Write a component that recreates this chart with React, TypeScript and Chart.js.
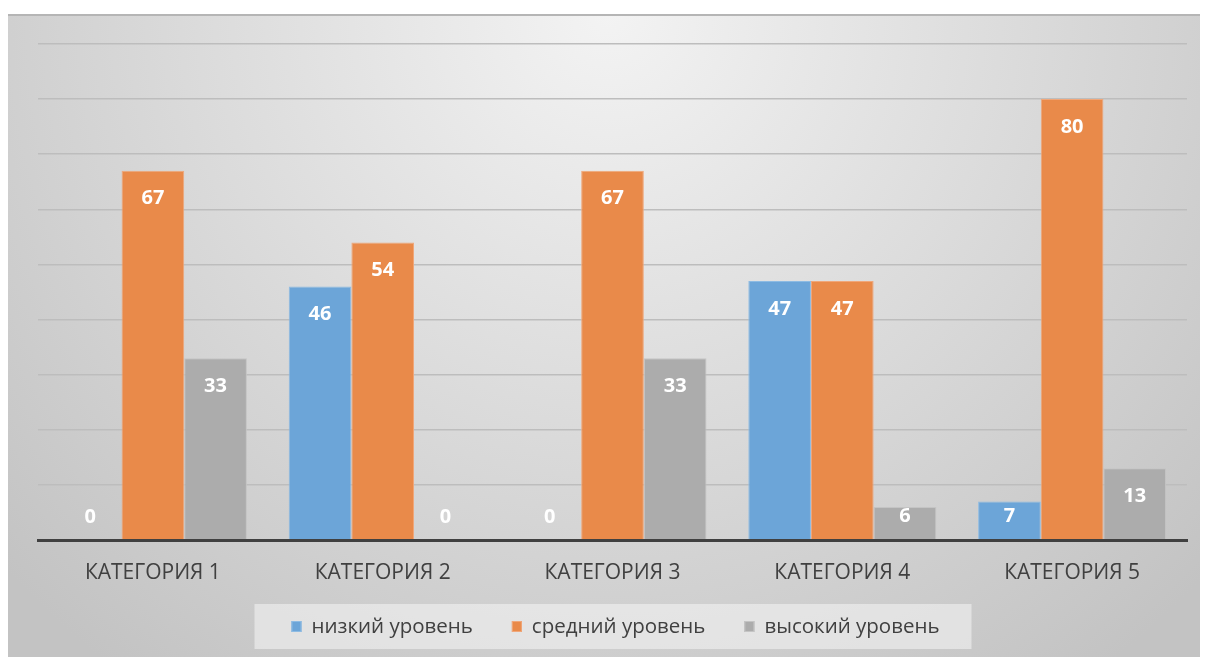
import React, { useEffect, useRef } from "react";
import { Chart, registerables } from "chart.js";

Chart.register(...registerables);

const categories = ["КАТЕГОРИЯ 1", "КАТЕГОРИЯ 2", "КАТЕГОРИЯ 3", "КАТЕГОРИЯ 4", "КАТЕГОРИЯ 5"];
const seriesNames = ["низкий уровень", "средний уровень", "высокий уровень"];
const lowLevel = [0, 46, 0, 47, 7];
const midLevel = [67, 54, 67, 47, 80];
const highLevel = [33, 0, 33, 6, 13];
const colors = ["#6ca5d8", "#e98a4a", "#acacac"];
const borderColors = ["#8dbbe3", "#f0a77a", "#c4c4c4"];

const FONT = "'Open Sans', 'Noto Sans', sans-serif";

const bgPlugin = {
  id: "bgPlugin",
  beforeDraw(chart: any) {
    const { ctx, width, height } = chart;
    ctx.save();
    ctx.fillStyle = "#ffffff";
    ctx.fillRect(0, 0, width, height);
    const top = 6;
    const g = ctx.createRadialGradient(width / 2, top, 0, width / 2, top, 820);
    g.addColorStop(0, "#f3f3f3");
    g.addColorStop(1, "#c3c3c3");
    ctx.fillStyle = g;
    ctx.fillRect(0, top, width, height - top);
    ctx.fillStyle = "#b5b5b5";
    ctx.fillRect(0, top, width, 2);
    ctx.restore();
  },
};

const labelPlugin = {
  id: "labelPlugin",
  afterDatasetsDraw(chart: any) {
    const { ctx } = chart;
    ctx.save();
    ctx.font = `bold 20px ${FONT}`;
    ctx.fillStyle = "#ffffff";
    ctx.textAlign = "center";
    ctx.textBaseline = "middle";
    chart.data.datasets.forEach((ds: any, di: number) => {
      const meta = chart.getDatasetMeta(di);
      meta.data.forEach((bar: any, i: number) => {
        const y = Math.min(bar.y + 28, bar.base - 23);
        ctx.fillText(String(ds.data[i]), bar.x, y);
      });
    });
    ctx.restore();
  },
};

const legendPlugin = {
  id: "customLegend",
  afterDraw(chart: any) {
    const { ctx, chartArea } = chart;
    ctx.save();
    ctx.font = `20.5px ${FONT}`;
    const box = 10;
    const gapBoxText = 10;
    const gapItems = 39;
    const widths = seriesNames.map((n) => ctx.measureText(n).width);
    const total = widths.reduce((a, w) => a + box + gapBoxText + w, 0) + gapItems * (seriesNames.length - 1);
    const cx = (chartArea.left + chartArea.right) / 2 + 3;
    const cy = 618;
    let x = cx - total / 2;
    ctx.fillStyle = "rgba(245,245,245,0.55)";
    ctx.fillRect(x - 37, cy - 22, total + 69, 45);
    ctx.textBaseline = "middle";
    ctx.textAlign = "left";
    seriesNames.forEach((n, i) => {
      ctx.fillStyle = colors[i];
      ctx.fillRect(x, cy - 5, box, box + 1);
      ctx.strokeStyle = borderColors[i];
      ctx.lineWidth = 1;
      ctx.strokeRect(x + 0.5, cy - 4.5, box - 1, box);
      ctx.fillStyle = "#404040";
      ctx.fillText(n, x + box + gapBoxText, cy + 1);
      x += box + gapBoxText + widths[i] + gapItems;
    });
    ctx.restore();
  },
};

export default function App() {
  const ref = useRef<HTMLCanvasElement | null>(null);
  useEffect(() => {
    if (!ref.current) return;
    const seriesData = [lowLevel, midLevel, highLevel];
    const chart = new Chart(ref.current, {
      type: "bar",
      data: {
        labels: categories,
        datasets: seriesNames.map((name, i) => ({
          label: name,
          data: seriesData[i],
          backgroundColor: colors[i],
          borderColor: borderColors[i],
          borderWidth: 1,
          categoryPercentage: 0.818,
          barPercentage: 1.0,
        })),
      },
      options: {
        responsive: false,
        animation: false,
        devicePixelRatio: 1,
        layout: { padding: { left: 30, right: 21, top: 36, bottom: 0 } },
        plugins: {
          legend: { display: false },
          tooltip: { enabled: false },
        },
        scales: {
          x: {
            grid: { display: false, drawTicks: false },
            border: { display: true, color: "#404040", width: 3, z: 1 },
            ticks: {
              color: "#404040",
              font: { family: FONT, size: 21 },
              padding: 20,
              maxRotation: 0,
            },
            afterFit: (scale: any) => {
              scale.height = 117;
            },
          },
          y: {
            min: 0,
            max: 90,
            ticks: { display: false, stepSize: 10 },
            grid: { color: "#bdbdbd", lineWidth: 1.5, drawTicks: false },
            border: { display: false },
          },
        },
      },
      plugins: [bgPlugin, labelPlugin, legendPlugin],
    });
    return () => chart.destroy();
  }, []);
  return (
    <div style={{ width: 1200, height: 649 }}>
      <canvas ref={ref} width={1200} height={649} style={{ display: "block" }} />
    </div>
  );
}
